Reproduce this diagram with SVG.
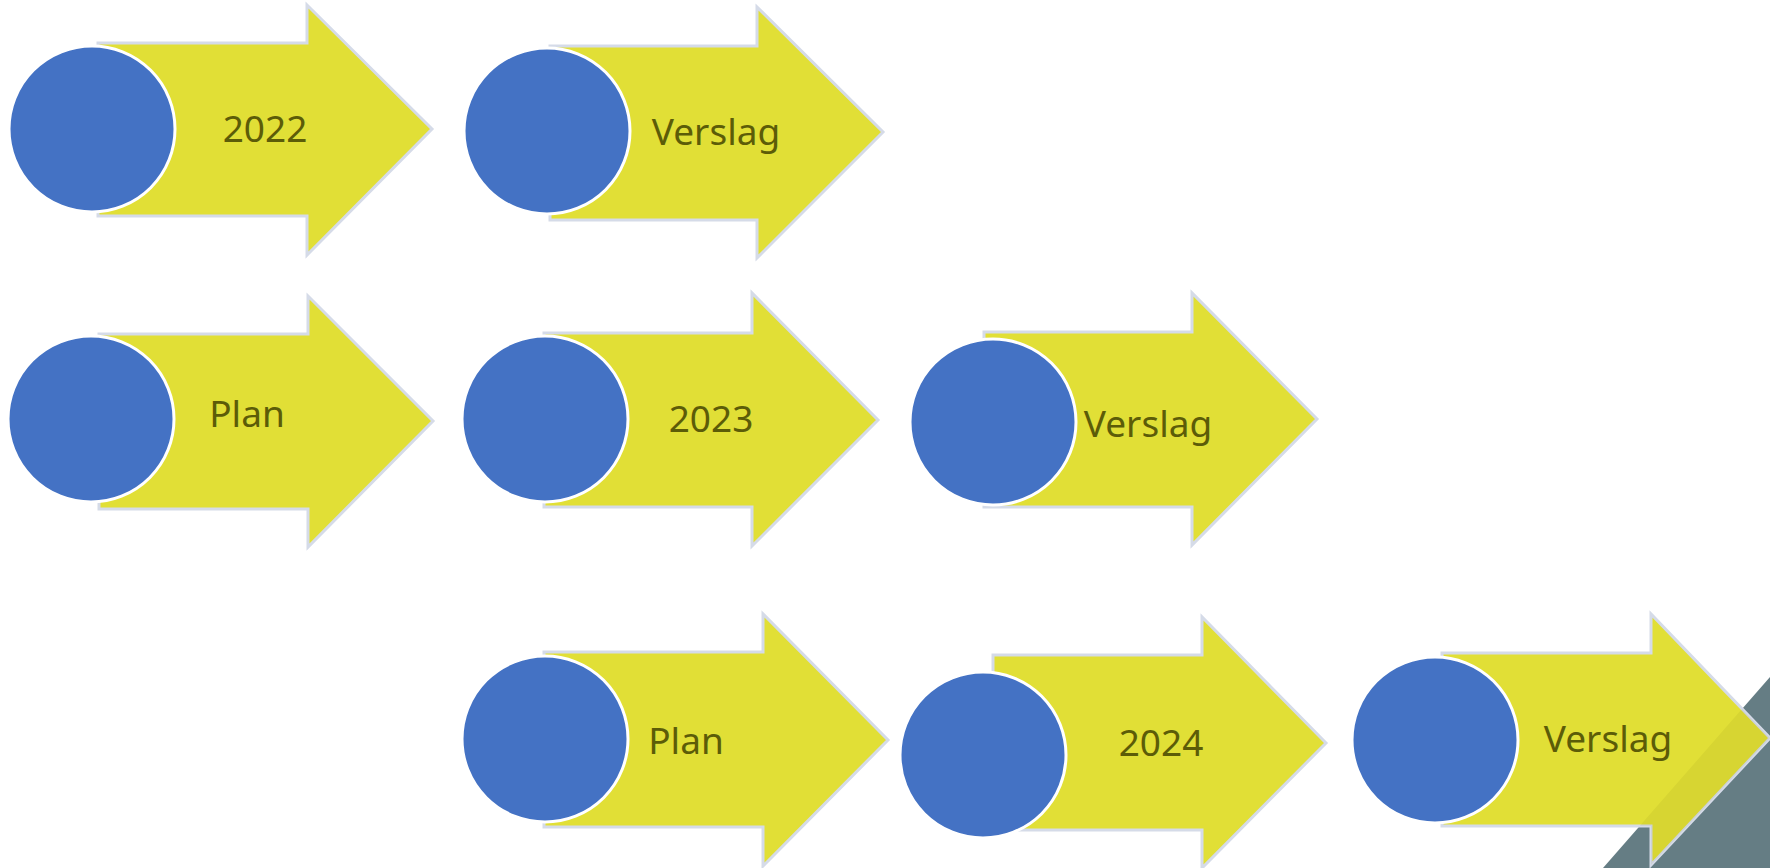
<svg xmlns="http://www.w3.org/2000/svg" width="1770" height="868" viewBox="0 0 1770 868">
<style>
.arr{fill:#E1DF36;stroke:#D5DBE8;stroke-width:3;stroke-linejoin:miter}
.dot{fill:#4472C4;stroke:#FFFFFF;stroke-width:3}
.lbl{font-family:"Noto Sans","Open Sans",sans-serif;font-size:37px;fill:#5C5C08;text-anchor:middle}
</style>
<defs>
<clipPath id="clip8"><polygon points="1442,653 1651,653 1651,614 1770,738 1651,865 1651,826 1442,826"/></clipPath>
</defs>
<rect width="1770" height="868" fill="#FFFFFF"/>
<polygon id="corner" points="1603,868 1770,677 1770,868" fill="#657D84"/>
<g id="n1">
<polygon class="arr" points="98,43 307,43 307,5 432,129 307,255 307,216 98,216"/>
<circle class="dot" cx="92" cy="129" r="83"/>
<text class="lbl" x="265" y="142">2022</text>
</g>
<g id="n2">
<polygon class="arr" points="550,46 757,46 757,7 883,132 757,258 757,220 550,220"/>
<circle class="dot" cx="547" cy="131" r="83"/>
<text class="lbl" x="716" y="145">Verslag</text>
</g>
<g id="n3">
<polygon class="arr" points="99,334 308,334 308,296 433,421 308,547 308,509 99,509"/>
<circle class="dot" cx="91" cy="419" r="83"/>
<text class="lbl" x="247" y="427">Plan</text>
</g>
<g id="n4">
<polygon class="arr" points="544,333 752,333 752,293 878,420 752,546 752,507 544,507"/>
<circle class="dot" cx="545" cy="419" r="83"/>
<text class="lbl" x="711" y="432">2023</text>
</g>
<g id="n5">
<polygon class="arr" points="984,332 1192,332 1192,293 1317,419 1192,545 1192,507 984,507"/>
<circle class="dot" cx="993" cy="422" r="83"/>
<text class="lbl" x="1148" y="437">Verslag</text>
</g>
<g id="n6">
<polygon class="arr" points="544,652 763,652 763,614 888,740 763,866 763,827 544,827"/>
<circle class="dot" cx="545" cy="739" r="83"/>
<text class="lbl" x="686" y="754">Plan</text>
</g>
<g id="n7">
<polygon class="arr" points="993,655 1202,655 1202,617 1326,743 1202,868 1202,830 993,830"/>
<circle class="dot" cx="983" cy="755" r="83"/>
<text class="lbl" x="1161" y="756">2024</text>
</g>
<g id="n8">
<polygon class="arr" points="1442,653 1651,653 1651,614 1770,738 1651,865 1651,826 1442,826"/>
<polygon points="1603,868 1770,677 1770,868" fill="#5A5A00" fill-opacity="0.07" clip-path="url(#clip8)"/>
<circle class="dot" cx="1435" cy="740" r="83"/>
<text class="lbl" x="1608" y="752">Verslag</text>
</g>
<g id="connectors"/>
</svg>
